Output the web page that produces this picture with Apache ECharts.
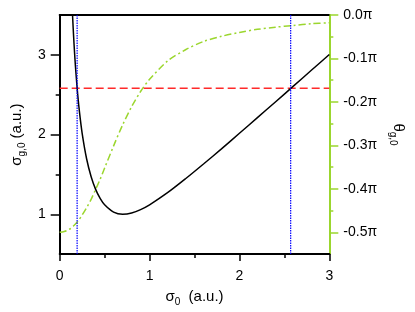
<!DOCTYPE html>
<html>
<head>
<meta charset="utf-8">
<script src="https://cdn.jsdelivr.net/npm/echarts@6/dist/echarts.min.js"></script>
<style>html,body{margin:0;padding:0;background:#fff}#c{width:415px;height:312px}</style>
</head>
<body>
<div id="c"></div>
<script>
// sigma_0 sample positions (a.u.)
var sigma0 = [0.13,0.14,0.15,0.16,0.17,0.18,0.2,0.22,0.25,0.3,0.35,0.4,0.45,0.5,0.6,0.7,0.8,0.9,1.0,1.2,1.4,1.6,1.8,2.0,2.2,2.4,2.6,2.8,3.0];
// sigma_{g,0} (a.u.), black curve
var sigmaG0 = [3.848,3.574,3.337,3.129,2.946,2.784,2.508,2.284,2.016,1.693,1.471,1.312,1.199,1.118,1.027,1.000,1.015,1.058,1.118,1.270,1.445,1.630,1.821,2.016,2.212,2.409,2.607,2.806,3.005];
// theta_{g,0} positions and values (in units of pi), green curve
var sigmaTheta = [0,0.05,0.1,0.15,0.2,0.25,0.3,0.35,0.4,0.45,0.5,0.6,0.7,0.8,0.9,1.0,1.2,1.4,1.6,1.8,2.0,2.2,2.4,2.6,2.8,3.0];
var thetaG0 = [-0.5,-0.498,-0.494,-0.486,-0.475,-0.460,-0.443,-0.424,-0.401,-0.378,-0.352,-0.301,-0.253,-0.211,-0.176,-0.148,-0.106,-0.080,-0.061,-0.049,-0.040,-0.033,-0.028,-0.024,-0.020,-0.018];
// reference lines
var redLevel = 2.58;
var blueX = [0.194, 2.57];
// ticks
var xTicks = [0,1,2,3];
var yTicks = [1,2,3];
var yMinorTicks = [1.5,2.5];
var thetaTicks = [0,-0.1,-0.2,-0.3,-0.4,-0.5];
var thetaMinorTicks = [-0.05,-0.15,-0.25,-0.35,-0.45];

var FONT = 'Liberation Sans, Arial, sans-serif';
var GREEN = '#9BD62E';
function zip(a,b){return a.map(function(v,i){return [v,b[i]];});}

var chart = echarts.init(document.getElementById('c'), null, {renderer:'canvas'});
var series = [
  {type:'line', xAxisIndex:0, yAxisIndex:1, data: zip(sigmaTheta, thetaG0), symbol:'none', smooth:0.3,
   lineStyle:{color:GREEN, width:1.5, type:[7,3,2,3]}, z:2},
  {type:'line', xAxisIndex:0, yAxisIndex:0, data: [[0,redLevel],[3,redLevel]], symbol:'none',
   lineStyle:{color:'#ff2a2a', width:1.5, type:[8,4]}, z:3},
  {type:'line', xAxisIndex:0, yAxisIndex:0, data: zip(sigma0, sigmaG0), symbol:'none', smooth:0.3,
   lineStyle:{color:'#000', width:1.5}, z:4}
];
blueX.forEach(function(x){
  series.push({type:'line', xAxisIndex:0, yAxisIndex:0, data:[[x,0.5],[x,3.5]], symbol:'none',
    lineStyle:{color:'#0000ff', width:1.2, type:[1.5,1]}, z:5});
});
var rich = {
  s:{fontSize:15, fontFamily:FONT, color:'#000', lineHeight:20},
  sub:{fontSize:10, fontFamily:FONT, color:'#000', lineHeight:20, padding:[9,0,0,0], verticalAlign:'bottom'}
};
chart.setOption({
  animation:false,
  backgroundColor:'#fff',
  grid:{left:58, right:83, top:15, bottom:57, containLabel:false},
  xAxis:[
    {type:'value', position:'bottom', min:0, max:3, interval:1,
     name:'{s|σ}{sub|0}{s|  (a.u.)}', nameLocation:'middle', nameGap:32,
     nameTextStyle:{rich:rich},
     axisLine:{show:true, onZero:false, lineStyle:{color:'#000', width:2}},
     axisTick:{show:true, inside:false, length:7, lineStyle:{color:'#000', width:1.5}},
     minorTick:{show:true, splitNumber:2, length:4, lineStyle:{color:'#000', width:1.5}},
     axisLabel:{fontSize:14, fontFamily:FONT, color:'#000', margin:15},
     splitLine:{show:false}},
    {type:'value', position:'top', min:0, max:3,
     axisLine:{show:true, onZero:false, lineStyle:{color:'#000', width:2}},
     axisTick:{show:false}, axisLabel:{show:false}, splitLine:{show:false}}
  ],
  yAxis:[
    {type:'value', position:'left', min:0.5, max:3.5,
     name:'{s|σ}{sub|g,0}{s| (a.u.)}', nameLocation:'middle', nameGap:23,
     nameTextStyle:{rich:rich},
     axisLine:{show:true, onZero:false, lineStyle:{color:'#000', width:2}},
     axisTick:{show:true, length:9, customValues:yTicks, lineStyle:{color:'#000', width:1.5}},
     axisLabel:{fontSize:14, fontFamily:FONT, color:'#000', margin:14, customValues:yTicks},
     splitLine:{show:false}},
    {type:'value', position:'right', min:-0.55, max:0,
     name:'{s|θ}{sub|g,0}', nameLocation:'middle', nameGap:43, nameRotate:-90,
     nameTextStyle:{rich:rich},
     axisLine:{show:true, onZero:false, lineStyle:{color:GREEN, width:2}},
     axisTick:{show:true, length:9, customValues:thetaTicks, lineStyle:{color:GREEN, width:1.5}},
     axisLabel:{fontSize:14, fontFamily:FONT, color:'#000', margin:14, customValues:thetaTicks,
       formatter:function(v){return (Math.abs(v)<1e-9?'0.0':v.toFixed(1))+'π';}},
     splitLine:{show:false}},
    {type:'value', position:'left', min:0.5, max:3.5,
     axisLine:{show:false, onZero:false},
     axisTick:{show:true, length:4, customValues:yMinorTicks, lineStyle:{color:'#000', width:1.5}},
     axisLabel:{show:false}, splitLine:{show:false}},
    {type:'value', position:'right', min:-0.55, max:0,
     axisLine:{show:false, onZero:false},
     axisTick:{show:true, length:4, customValues:thetaMinorTicks, lineStyle:{color:GREEN, width:1.5}},
     axisLabel:{show:false}, splitLine:{show:false}}
  ],
  series:series
});
</script>
</body>
</html>
